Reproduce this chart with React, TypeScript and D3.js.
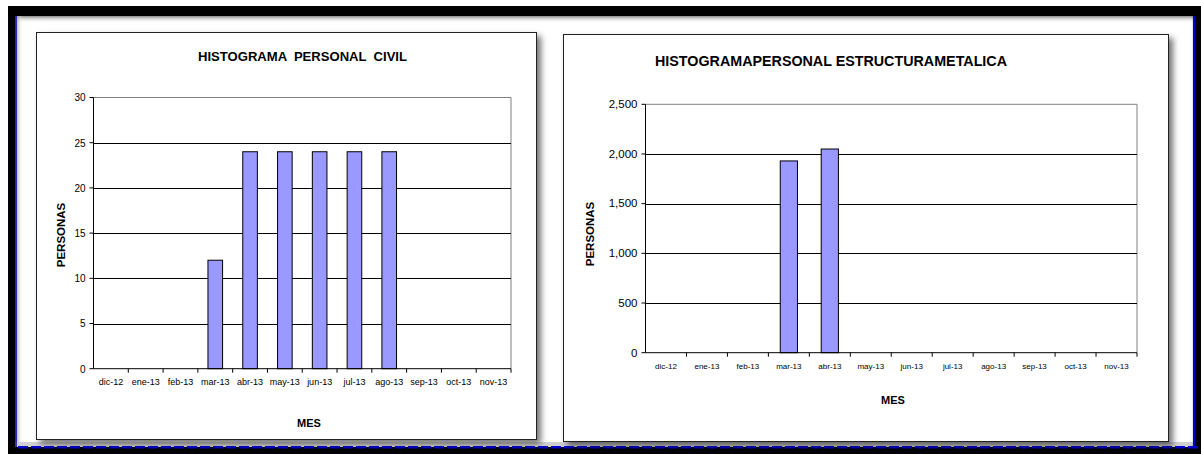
import React from "react";
import * as d3 from "d3";

const months = ["dic-12","ene-13","feb-13","mar-13","abr-13","may-13","jun-13","jul-13","ago-13","sep-13","oct-13","nov-13"];
const civilValues = [0,0,0,12,24,24,24,24,24,0,0,0];
const civilTicks = [0,5,10,15,20,25,30];
const metalValues = [0,0,0,1930,2050,0,0,0,0,0,0,0];
const metalTicks = [0,500,1000,1500,2000,2500];

const FONT = "'Liberation Sans', Arial, Helvetica, sans-serif";

type ChartProps = {
  panel: { x: number; y: number; w: number; h: number };
  plot: { x0: number; x1: number; y0: number; y1: number };
  values: number[];
  ticks: number[];
  maxV: number;
  title: string;
  titleX: number;
  titleY: number;
  titleLen: number;
  titleSize: number;
  yTitleX: number;
  yTitleY: number;
  xTitleX: number;
  xTitleY: number;
  yFmt: (v: number) => string;
  yLabelSize: number;
  xLabelSize: number;
  xLabelY: number;
};

function Chart(p: ChartProps) {
  const x = d3.scaleBand<string>().domain(months).range([p.plot.x0, p.plot.x1]).paddingInner(0).paddingOuter(0);
  const y = d3.scaleLinear().domain([0, p.maxV]).range([p.plot.y1, p.plot.y0]);
  const bw = x.bandwidth() * 0.42;
  return (
    <g>
      <rect x={p.panel.x} y={p.panel.y} width={p.panel.w} height={p.panel.h} fill="#fff" stroke="#222" strokeWidth={1} filter="url(#shadow)" />
      <text x={p.titleX} y={p.titleY} textLength={p.titleLen} lengthAdjust="spacingAndGlyphs" fontFamily={FONT} fontWeight="bold" fontSize={p.titleSize} style={{ whiteSpace: "pre" }}>{p.title}</text>
      <line x1={p.plot.x0} x2={p.plot.x1} y1={y(p.maxV)} y2={y(p.maxV)} stroke="#808080" />
      <line x1={p.plot.x1} x2={p.plot.x1} y1={p.plot.y0} y2={p.plot.y1} stroke="#808080" />
      {p.ticks.filter(t => t > 0 && t < p.maxV).map(t => (
        <line key={t} x1={p.plot.x0} x2={p.plot.x1} y1={Math.round(y(t)) + 0.5} y2={Math.round(y(t)) + 0.5} stroke="#000" />
      ))}
      {p.values.map((v, i) => v > 0 ? (
        <rect key={i} x={(x(months[i]) as number) + x.bandwidth() / 2 - bw / 2} y={y(v)} width={bw} height={y(0) - y(v)} fill="#9999ff" stroke="#000" strokeWidth={1} />
      ) : null)}
      <line x1={p.plot.x0} x2={p.plot.x0} y1={p.plot.y0} y2={p.plot.y1} stroke="#000" />
      <line x1={p.plot.x0} x2={p.plot.x1} y1={p.plot.y1} y2={p.plot.y1} stroke="#000" />
      {p.ticks.map(t => (
        <g key={t}>
          <line x1={p.plot.x0 - 4} x2={p.plot.x0} y1={y(t)} y2={y(t)} stroke="#000" />
          <text x={p.plot.x0 - 8} y={y(t) + 3.8} textAnchor="end" fontFamily={FONT} fontSize={p.yLabelSize} fill="#000">{p.yFmt(t)}</text>
        </g>
      ))}
      {months.map((m) => (
        <g key={m}>
          <line x1={(x(m) as number) + x.bandwidth()} x2={(x(m) as number) + x.bandwidth()} y1={p.plot.y1} y2={p.plot.y1 + 4} stroke="#000" />
          <text x={(x(m) as number) + x.bandwidth() / 2} y={p.xLabelY} textAnchor="middle" fontFamily={FONT} fontSize={p.xLabelSize} fill="#000">{m}</text>
        </g>
      ))}
      <text transform={`translate(${p.yTitleX},${p.yTitleY}) rotate(-90)`} textAnchor="middle" fontFamily={FONT} fontWeight="bold" fontSize={11.5}>PERSONAS</text>
      <text x={p.xTitleX} y={p.xTitleY} textAnchor="middle" fontFamily={FONT} fontWeight="bold" fontSize={11}>MES</text>
    </g>
  );
}

export default function App() {
  const dashes = d3.range(18, 1192, 13);
  return (
    <svg width={1201} height={454} style={{ position: "absolute", left: 0, top: 0 }}>
      <defs>
        <filter id="shadow" x="-5%" y="-5%" width="115%" height="115%">
          <feDropShadow dx={4} dy={4} stdDeviation={3} floodColor="#000" floodOpacity={0.55} />
        </filter>
        <linearGradient id="gTop" x1="0" y1="0" x2="0" y2="1">
          <stop offset="0" stopColor="#8a8a8a" />
          <stop offset="1" stopColor="#fff" stopOpacity={0} />
        </linearGradient>
        <linearGradient id="gLeft" x1="0" y1="0" x2="1" y2="0">
          <stop offset="0" stopColor="#8a8a8a" />
          <stop offset="1" stopColor="#fff" stopOpacity={0} />
        </linearGradient>
      </defs>
      <rect x={0} y={0} width={1201} height={454} fill="#fff" />
      <rect x={8} y={6} width={1193} height={448} fill="#000" />
      <rect x={15} y={16} width={1178} height={431} fill="#fff" />
      <rect x={15} y={16} width={1178} height={7} fill="url(#gTop)" />
      <rect x={15} y={16} width={8} height={431} fill="url(#gLeft)" />
      <rect x={15} y={442} width={1178} height={5} fill="#d0d0d0" />
      <line x1={16} x2={16} y1={16} y2={447} stroke="#0000cc" strokeWidth={1.5} />
      <line x1={1194} x2={1194} y1={16} y2={448} stroke="#0000cc" strokeWidth={2.2} />
      {dashes.map(d => (
        <rect key={d} x={d} y={446} width={10} height={2.5} fill="#0000cc" />
      ))}
      <Chart
        panel={{ x: 36.5, y: 32.5, w: 500, h: 407 }}
        plot={{ x0: 93.5, x1: 511, y0: 97.5, y1: 368.7 }}
        values={civilValues}
        ticks={civilTicks}
        maxV={30}
        title={"HISTOGRAMA  PERSONAL  CIVIL"}
        titleX={198}
        titleY={60.5}
        titleLen={209}
        titleSize={12.5}
        yTitleX={64.5}
        yTitleY={235}
        xTitleX={309}
        xTitleY={427}
        yFmt={(v) => String(v)}
        yLabelSize={10}
        xLabelSize={9}
        xLabelY={385}
      />
      <Chart
        panel={{ x: 563.5, y: 34.5, w: 605, h: 407 }}
        plot={{ x0: 645.5, x1: 1137, y0: 104.3, y1: 352.7 }}
        values={metalValues}
        ticks={metalTicks}
        maxV={2500}
        title={"HISTOGRAMAPERSONAL ESTRUCTURAMETALICA"}
        titleX={655}
        titleY={66}
        titleLen={352}
        titleSize={14}
        yTitleX={593.5}
        yTitleY={234}
        xTitleX={893}
        xTitleY={404}
        yFmt={d3.format(",")}
        yLabelSize={11.5}
        xLabelSize={8}
        xLabelY={369}
      />
    </svg>
  );
}
